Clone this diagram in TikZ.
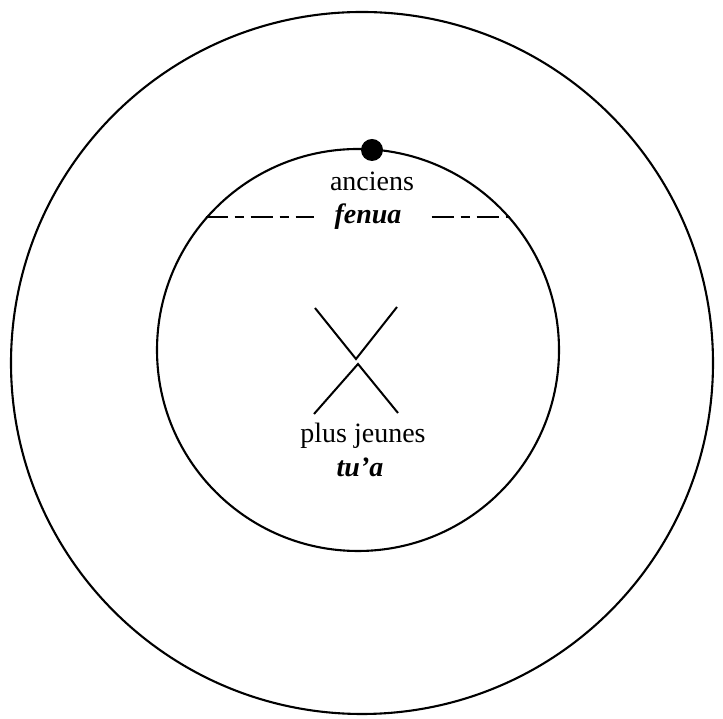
\documentclass[tikz,border=0pt]{standalone}
\usepackage{fontspec}
\setmainfont{Liberation Serif}
\usetikzlibrary{positioning, calc}
\tikzset{
    ring/.style = {circle, draw, line width=2.1pt, inner sep=0pt},
    label/.style = {font=\fontsize{28}{32}\selectfont, inner sep=1pt},
    tribe/.style = {font=\fontsize{28}{32}\selectfont\bfseries\itshape, inner sep=1pt},
    dashedrule/.style = {draw, line width=2.1pt, dash pattern=on 22pt off 7pt on 9pt off 7pt},
    stroke/.style = {draw, line width=2pt}
}
\begin{document}
\begin{tikzpicture}[x=1pt, y=1pt]
        \useasboundingbox (0,0) rectangle (723,719);

        % Rings
        \node [ring, minimum size=702pt] (outer) at (362,356) {};
        \node [ring, minimum size=402pt] (inner) at (358,369) {};
        \node [circle, fill, minimum size=22pt, inner sep=0pt] (dot) at (372,569) {};

        % Labels
        \node [label] (anciens) at (372,538) {anciens};
        \node [tribe, inner xsep=20pt] (fenua) at (368,502) {fenua};
        \node [label] (jeunes) at (363,283) {plus jeunes};
        \node [tribe] (tua) at (360,252) {tu’a};

        % Dashed boundary
        \coordinate (fl) at (inner.139);
        \coordinate (fr) at (inner.41);
        \coordinate (fe) at ($(fr -| fenua.east)+(10,0)$);
        \path [dashedrule] (fl) -- (fl -| fenua.west);
        \path [dashedrule] (fe) -- (fr);

        % Cross
        \path [stroke] (315,411) -- (356,360) -- (397,412);
        \path [stroke] (314,305) -- (358,355) -- (398,306);

    \end{tikzpicture}
\end{document}
